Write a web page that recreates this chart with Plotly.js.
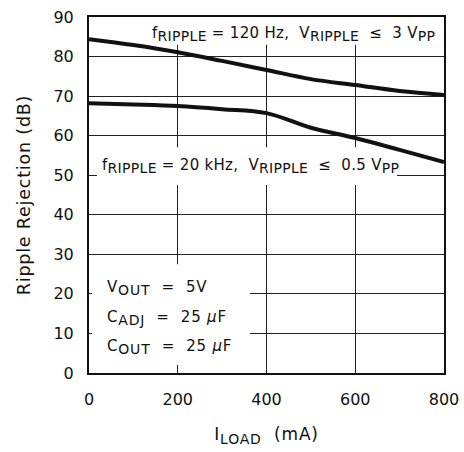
<!DOCTYPE html>
<html><head><meta charset="utf-8">
<script src="https://cdn.plot.ly/plotly-3.0.1.min.js"></script>
<style>body{margin:0;background:#fff}#c{width:464px;height:452px}</style>
</head><body><div id="c"></div>
<script>
const loadMA = [0, 100, 200, 300, 400, 500, 600, 700, 800];
const rr120Hz = [84.4, 82.9, 81.1, 78.9, 76.6, 74.3, 72.8, 71.3, 70.3];
const rr20kHz = [68.2, 67.9, 67.5, 66.7, 65.7, 62.0, 59.4, 56.4, 53.3];
const xTicks = [0, 200, 400, 600, 800];
const yTicks = [0, 10, 20, 30, 40, 50, 60, 70, 80, 90];

const F = 'DejaVu Sans, sans-serif';
const mk = ls => ({
  T: s => '<span style="letter-spacing:' + ls + 'px">' + s + '</span>',
  S: s => '<sub><span style="font-size:14px;letter-spacing:' + ls + 'px">' + s + '</span></sub>'
});
const A = mk(0.8), B = mk(0.3);

const line = {color: '#111', width: 4, shape: 'spline', smoothing: 1};
const traces = [
  {x: loadMA, y: rr120Hz, mode: 'lines', line: line, hoverinfo: 'skip'},
  {x: loadMA, y: rr20kHz, mode: 'lines', line: line, hoverinfo: 'skip'}
];

const box = (x0, x1, y0, y1) => ({type: 'rect', xref: 'x', yref: 'y', x0, x1, y0, y1,
  fillcolor: '#fff', line: {width: 0}, layer: 'between'});

const layout = {
  width: 464, height: 452,
  margin: {l: 89, r: 20, t: 17, b: 79},
  paper_bgcolor: '#fff', plot_bgcolor: '#fff',
  showlegend: false,
  font: {family: F, size: 16, color: '#111'},
  xaxis: {range: [0, 800], tickvals: xTicks, ticks: '', ticklabelstandoff: 11,
    showgrid: true, gridcolor: '#222', gridwidth: 1, zeroline: false,
    showline: true, mirror: true, linecolor: '#111', linewidth: 2,
    title: {text: A.T('I') + A.S('LOAD') + A.T('  (mA)'), standoff: 20, font: {size: 17}}},
  yaxis: {range: [0, 90], tickvals: yTicks, ticks: '', ticklabelstandoff: 10,
    showgrid: true, gridcolor: '#222', gridwidth: 1, zeroline: false,
    showline: true, mirror: true, linecolor: '#111', linewidth: 2,
    title: {text: A.T('Ripple Rejection (dB)'), standoff: 18, font: {size: 17.5}}},
  shapes: [
    box(144, 786, 83, 90),
    box(18, 694, 47.5, 57.1),
    box(7, 363, 2, 27.5)
  ],
  annotations: [
    {xref: 'x', yref: 'y', x: 785, y: 85.6, xanchor: 'right', yanchor: 'middle', showarrow: false,
     text: B.T('f') + B.S('RIPPLE') + B.T(' = 120 Hz,  V') + B.S('RIPPLE') + B.T('  ≤  3 V') + B.S('PP'), font: {size: 15}},
    {xref: 'x', yref: 'y', x: 24, y: 52.4, xanchor: 'left', yanchor: 'middle', showarrow: false,
     text: B.T('f') + B.S('RIPPLE') + B.T(' = 20 kHz,  V') + B.S('RIPPLE') + B.T('  ≤  0.5 V') + B.S('PP'), font: {size: 15}},
    {xref: 'x', yref: 'y', x: 35, y: 21.5, xanchor: 'left', yanchor: 'middle', showarrow: false,
     text: A.T('V') + A.S('OUT') + A.T('  =  5V'), font: {size: 15}},
    {xref: 'x', yref: 'y', x: 35, y: 14, xanchor: 'left', yanchor: 'middle', showarrow: false,
     text: A.T('C') + A.S('ADJ') + A.T('  =  25 <i>μ</i>F'), font: {size: 15}},
    {xref: 'x', yref: 'y', x: 35, y: 6.5, xanchor: 'left', yanchor: 'middle', showarrow: false,
     text: A.T('C') + A.S('OUT') + A.T('  =  25 <i>μ</i>F'), font: {size: 15}}
  ]
};
Plotly.newPlot('c', traces, layout, {staticPlot: true, displayModeBar: false});
</script></body></html>
